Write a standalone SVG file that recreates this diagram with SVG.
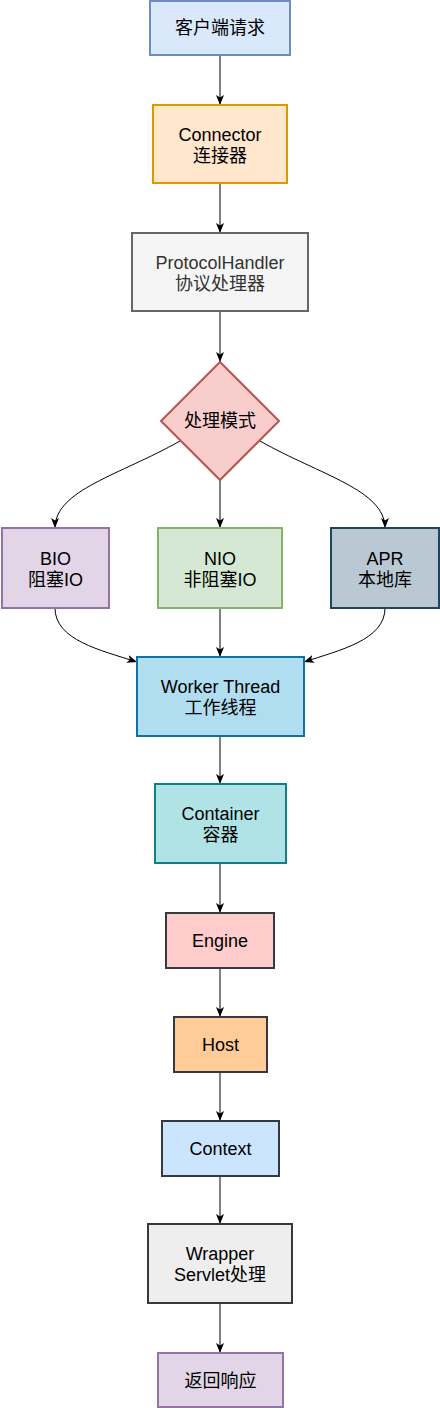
<svg xmlns="http://www.w3.org/2000/svg" width="440" height="1408" viewBox="0 0 440 1408">
<defs>
<marker id="arr" markerUnits="userSpaceOnUse" markerWidth="10" markerHeight="8" refX="10" refY="4" orient="auto">
<path d="M0,0 L10,4 L0,8 L2.5,4 Z" fill="#000"/>
</marker>
<style>
.n{stroke-width:2}
.t{font-family:"Liberation Sans","Noto Sans CJK SC",sans-serif;font-size:18px;text-anchor:middle;fill:#000}
.e{fill:none;stroke:#000;stroke-width:1;marker-end:url(#arr)}
</style>
</defs>
<rect width="440" height="1408" fill="#fff"/>
<g id="connectors">
<path class="e" d="M220,55 L220,105"/>
<path class="e" d="M220,183 L220,233"/>
<path class="e" d="M220,311 L220,362"/>
<path class="e" d="M220,479 L220,528"/>
<path class="e" d="M180,441 C120,475 55,490 55,528"/>
<path class="e" d="M260,441 C320,475 385,490 385,528"/>
<path class="e" d="M220,608 L220,657"/>
<path class="e" d="M55,608 C55,640 100,650 137,662"/>
<path class="e" d="M385,608 C385,640 340,650 304,662"/>
<path class="e" d="M220,736 L220,784"/>
<path class="e" d="M220,863 L220,913"/>
<path class="e" d="M220,968 L220,1017"/>
<path class="e" d="M220,1072 L220,1121"/>
<path class="e" d="M220,1176 L220,1224"/>
<path class="e" d="M220,1303 L220,1353"/>
</g>
<g id="client">
<rect class="n" x="150" y="1" width="140" height="54" fill="#dae8fc" stroke="#6c8ebf"/>
<text class="t" x="220" y="34">客户端请求</text>
</g>
<g id="connector">
<rect class="n" x="153" y="105" width="134" height="78" fill="#ffe6cc" stroke="#d79b00"/>
<text class="t" x="220" y="141">Connector</text>
<text class="t" x="220" y="162">连接器</text>
</g>
<g id="protocolhandler">
<rect class="n" x="132" y="233" width="176" height="78" fill="#f5f5f5" stroke="#666666"/>
<text class="t" x="220" y="269" style="fill:#333333">ProtocolHandler</text>
<text class="t" x="220" y="290" style="fill:#333333">协议处理器</text>
</g>
<g id="mode">
<path class="n" d="M220,362 L279,421 L220,480 L161,421 Z" fill="#f8cecc" stroke="#b85450"/>
<text class="t" x="220" y="427">处理模式</text>
</g>
<g id="bio">
<rect class="n" x="2" y="528" width="107" height="80" fill="#e1d5e7" stroke="#9673a6"/>
<text class="t" x="55.5" y="565">BIO</text>
<text class="t" x="55.5" y="586">阻塞IO</text>
</g>
<g id="nio">
<rect class="n" x="158" y="528" width="124" height="80" fill="#d5e8d4" stroke="#82b366"/>
<text class="t" x="220" y="565">NIO</text>
<text class="t" x="220" y="586">非阻塞IO</text>
</g>
<g id="apr">
<rect class="n" x="331" y="528" width="108" height="80" fill="#bac8d3" stroke="#23445d"/>
<text class="t" x="385" y="565">APR</text>
<text class="t" x="385" y="586">本地库</text>
</g>
<g id="worker">
<rect class="n" x="137" y="657" width="167" height="79" fill="#b1ddf0" stroke="#10739e"/>
<text class="t" x="220.5" y="693">Worker Thread</text>
<text class="t" x="220.5" y="714">工作线程</text>
</g>
<g id="container">
<rect class="n" x="155" y="784" width="131" height="79" fill="#b0e3e6" stroke="#0e8088"/>
<text class="t" x="220.5" y="820">Container</text>
<text class="t" x="220.5" y="841">容器</text>
</g>
<g id="engine">
<rect class="n" x="166" y="913" width="108" height="55" fill="#ffcccc" stroke="#36393d"/>
<text class="t" x="220" y="947">Engine</text>
</g>
<g id="host">
<rect class="n" x="174" y="1017" width="93" height="55" fill="#ffcc99" stroke="#36393d"/>
<text class="t" x="220.5" y="1051">Host</text>
</g>
<g id="context">
<rect class="n" x="162" y="1121" width="117" height="55" fill="#cce5ff" stroke="#36393d"/>
<text class="t" x="220.5" y="1155">Context</text>
</g>
<g id="wrapper">
<rect class="n" x="148" y="1224" width="144" height="79" fill="#eeeeee" stroke="#36393d"/>
<text class="t" x="220" y="1260">Wrapper</text>
<text class="t" x="220" y="1281">Servlet处理</text>
</g>
<g id="response">
<rect class="n" x="158" y="1353" width="125" height="54" fill="#e1d5e7" stroke="#9673a6"/>
<text class="t" x="220.5" y="1387">返回响应</text>
</g>
</svg>
